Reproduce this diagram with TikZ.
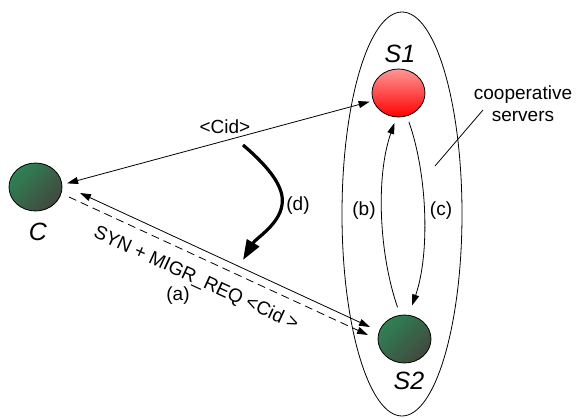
\documentclass[tikz,border=0pt]{standalone}
\usepackage{fontspec}
\setmainfont{Liberation Sans}
\usetikzlibrary{shapes.geometric,arrows.meta,calc}
\definecolor{hostgreenA}{RGB}{46,130,84}
\definecolor{hostgreenB}{RGB}{66,72,62}
\definecolor{hostredA}{RGB}{255,150,150}
\definecolor{hostredB}{RGB}{255,0,0}
\begin{document}
\begin{tikzpicture}[x=1pt,y=-1pt,
  >={Triangle[length=11pt,width=7pt]},
  lab/.style={font=\fontsize{19}{22}\selectfont, inner sep=0pt},
  biglab/.style={font=\fontsize{25}{28}\selectfont\itshape, inner sep=0pt},
  host/.style={ellipse, draw=black, line width=0.8pt, minimum width=53pt, minimum height=48pt, inner sep=0pt},
  greenhost/.style={host, top color=hostgreenA, bottom color=hostgreenB, shading angle=45},
  redhost/.style={host, top color=hostredA, bottom color=hostredB},
  conn/.style={line width=0.8pt},
  bigarrow/.style={line width=3.2pt, -{Triangle[length=20pt,width=14pt]}}
]
\useasboundingbox (0,0) rectangle (582,419);

% group ellipse
\node[ellipse, draw, line width=0.8pt, minimum width=120pt, minimum height=404pt, inner sep=0pt] (grp) at (402,214) {};

% hosts
\node[greenhost] (C) at (35.5,187) {};
\node[redhost] (S1) at (398.5,93) {};
\node[greenhost] (S2) at (404.5,339) {};

\node[biglab] (Clab) at (38,232) {C};
\node[biglab] (S1lab) at (400,54) {S1};
\node[biglab] (S2lab) at (409,381) {S2};

% C <-> S1
\draw[conn, <->, shorten <=5pt, shorten >=3.5pt] (C.5) -- (S1.197);
\node[lab] (cid) at (225,127) {<Cid>};

% C <-> S2 (solid) and dashed
\coordinate (a1) at (80,193);
\coordinate (a2) at (370,327);
\coordinate (m1) at (69,197);
\coordinate (m2) at (368,335);
\draw[conn, <->] (a1) -- (a2);
\draw[conn, ->, dash pattern=on 8pt off 5pt] (m1) -- (m2);
\node[lab, rotate=-24.8] (syn) at (196,279) {SYN + MIGR\_REQ <Cid >};
\node[lab] (la) at (178,296) {(a)};

% (b) and (c)
\draw[conn, ->, shorten <=8pt, shorten >=6pt] (S2.100) .. controls +(-21,-60) and +(-21,60) .. (S1.265);
\draw[conn, ->, shorten <=6pt, shorten >=10pt] (S1.290) .. controls +(21,60) and +(21,-60) .. (S2.80);
\node[lab] (lb) at (364,211) {(b)};
\node[lab] (lc) at (441,211) {(c)};

% (d)
\coordinate (d0) at (243,145);
\coordinate (d1) at (243,260);
\draw[bigarrow] (d0) .. controls (270,168) and (285,188) .. (282,205) .. controls (279,225) and (256,238) .. (d1);
\node[lab] (ld) at (298,206) {(d)};

% cooperative servers
\node[lab, align=center] (coop) at (523,104) {cooperative\\servers};
\coordinate (l1) at (483,110);
\coordinate (l2) at (435,166);
\draw[conn] (l1) -- (l2);
\end{tikzpicture}
\end{document}
